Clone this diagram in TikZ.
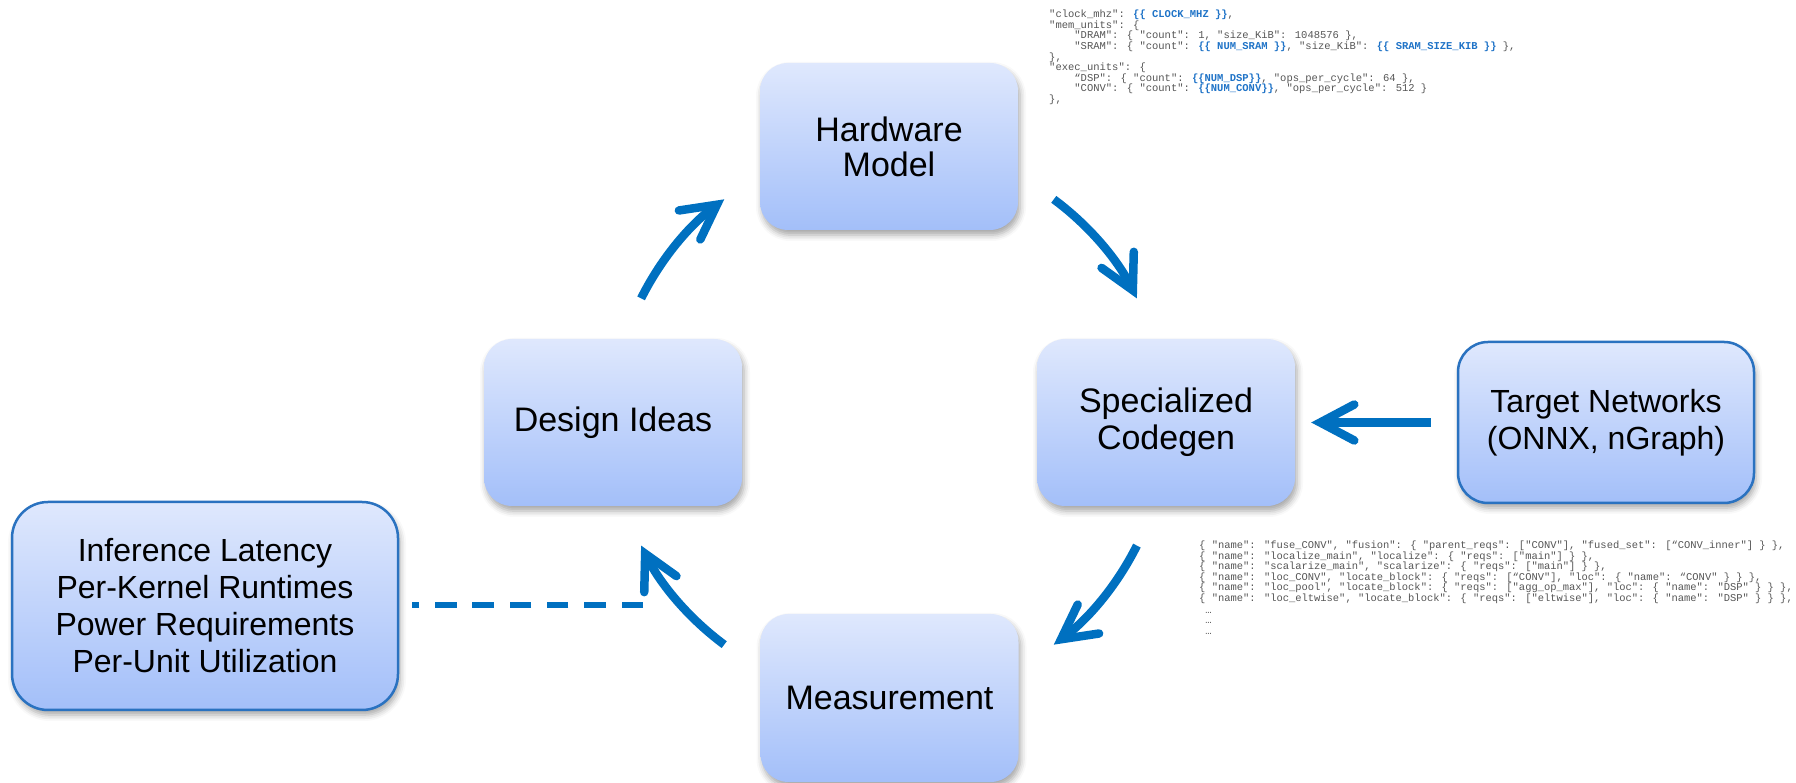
\documentclass[tikz,border=0pt]{standalone}
\usepackage{fontspec}
\setmainfont{Liberation Sans}
\newfontfamily\codefont{Liberation Mono}
\usetikzlibrary{arrows.meta,shadows.blur,calc}

\definecolor{boxtop}{HTML}{DFE8FD}
\definecolor{boxbot}{HTML}{A3BFF9}
\definecolor{flowblue}{HTML}{0070C0}
\definecolor{edgeblue}{HTML}{2A72C0}
\definecolor{codegray}{HTML}{555555}
\definecolor{tplblue}{HTML}{1F73C7}

% template placeholders inside the JSON snippets
\newcommand\tpl[1]{\textcolor{tplblue}{\bfseries #1}}
\newcommand\ind{\hphantom{xxxx}}

\tikzset{
  stage/.style={rounded corners=28pt, top color=boxtop, bottom color=boxbot,
    minimum width=258pt, minimum height=167pt, inner sep=0pt, align=center,
    font=\fontsize{34}{35}\selectfont,
    blur shadow={shadow xshift=2pt, shadow yshift=-5pt, shadow blur radius=6pt, shadow opacity=35}},
  infobox/.style={stage, draw=edgeblue, line width=2.5pt},
  flow/.style={draw=flowblue, line width=8.5pt,
    -{Straight Barb[length=34pt,width=36pt,line cap=round,line join=miter]}},
  dashline/.style={draw=flowblue, line width=6.5pt, dash pattern=on 21.5pt off 15.8pt},
  code/.style={text=codegray, align=left, inner sep=0pt, anchor=north west}
}

\begin{document}
\begin{tikzpicture}[x=1pt,y=1pt]
\useasboundingbox (0,0) rectangle (1796,783);

% cycle stages
\node[stage] (hw)   at (889,636.5) {Hardware\\Model};
\node[stage] (di)   at (613,360.5) {Design Ideas};
\node[stage, font=\fontsize{34}{37}\selectfont] (cg) at (1166,360.5) {Specialized\\Codegen};
\node[stage, minimum height=168pt] (ms) at (889.5,85) {Measurement};

% inputs and outputs
\node[infobox, minimum width=296pt, minimum height=161pt, rounded corners=30pt,
      font=\fontsize{32}{37}\selectfont] (tn) at (1606,360.5) {Target Networks\\(ONNX, nGraph)};
\node[infobox, minimum width=386pt, minimum height=208pt, rounded corners=36pt,
      font=\fontsize{32}{37}\selectfont] (inf) at (205,177)
      {Inference Latency\\Per-Kernel Runtimes\\Power Requirements\\Per-Unit Utilization};

% circular flow between the stages
\coordinate (hub) at (889,361);
\draw[flow] ($(hub)+(153.5:277)$) arc[start angle=153.5, end angle=126.5, radius=277];
\draw[flow] ($(hub)+(53.5:277)$)  arc[start angle=53.5,  end angle=26.5,  radius=277];
\draw[flow] ($(hub)+(-26.5:277)$) arc[start angle=-26.5, end angle=-53.5, radius=277];
\draw[flow] ($(hub)+(-126.5:277)$) arc[start angle=-126.5, end angle=-153.5, radius=277];

% network input into the code generator
\draw[flow] ([xshift=-26pt]tn.west) -- ([xshift=16pt]cg.east);

% measurements feeding back
\coordinate (fb) at (643,178);
\draw[dashline] (fb) -- ([xshift=13pt]inf.east |- fb);

% hardware description template
\node[code, font=\codefont\fontsize{10.5}{10.6}\selectfont] (hwcode) at (1049,773) {%
"clock\_mhz": \tpl{\{\{ CLOCK\_MHZ \}\}},\\
"mem\_units": \{\\
\ind "DRAM": \{ "count": 1, "size\_KiB": 1048576 \},\\
\ind "SRAM": \{ "count": \tpl{\{\{ NUM\_SRAM \}\}}, "size\_KiB": \tpl{\{\{ SRAM\_SIZE\_KIB \}\}} \},\\
\},\\
"exec\_units": \{\\
\ind “DSP": \{ "count": \tpl{\{\{NUM\_DSP\}\}}, "ops\_per\_cycle": 64 \},\\
\ind "CONV": \{ "count": \tpl{\{\{NUM\_CONV\}\}}, "ops\_per\_cycle": 512 \}\\
\},};

% generated schedule passes
\node[code, font=\codefont\fontsize{10.45}{10.45}\selectfont] (pass) at (1199,242) {%
\{ "name": "fuse\_CONV", "fusion": \{ "parent\_reqs": ["CONV"], "fused\_set": [“CONV\_inner"] \} \},\\
\{ "name": "localize\_main", "localize": \{ "reqs": ["main"] \} \},\\
\{ "name": "scalarize\_main", "scalarize": \{ "reqs": ["main"] \} \},\\
\{ "name": "loc\_CONV", "locate\_block": \{ "reqs": [“CONV"], "loc": \{ "name": “CONV" \} \} \},\\
\{ "name": "loc\_pool", "locate\_block": \{ "reqs": ["agg\_op\_max"], "loc": \{ "name": "DSP" \} \} \},\\
\{ "name": "loc\_eltwise", "locate\_block": \{ "reqs": ["eltwise"], "loc": \{ "name": "DSP" \} \} \},\\[2pt]
\hphantom{x}…\\
\hphantom{x}…\\
\hphantom{x}…};
\end{tikzpicture}
\end{document}
